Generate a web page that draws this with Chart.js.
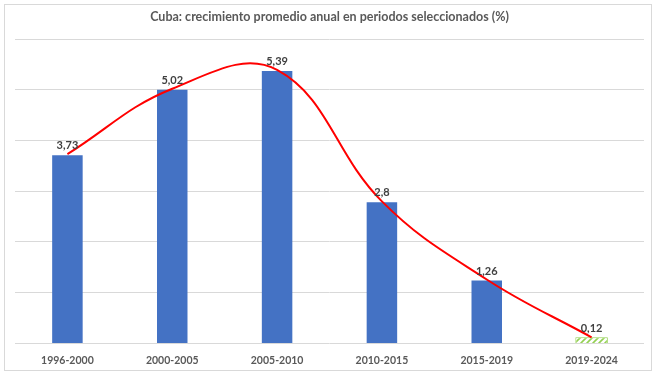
<!DOCTYPE html>
<html>
<head>
<meta charset="utf-8">
<script src="https://cdn.jsdelivr.net/npm/chart.js@4/dist/chart.umd.min.js"></script>
<style>
  html, body { margin: 0; padding: 0; background: #fff; }
  #wrap { position: relative; width: 656px; height: 375px; }
</style>
</head>
<body>
<div id="wrap"><canvas id="grafico"></canvas></div>
<script>
// Datos del gráfico
const periodos = ["1996-2000", "2000-2005", "2005-2010", "2010-2015", "2015-2019", "2019-2024"];
const crecimiento = [3.73, 5.02, 5.39, 2.8, 1.26, 0.12];
const titulo = "Cuba: crecimiento promedio anual en periodos seleccionados (%)";

const FUENTE = "Lato, 'Liberation Sans', sans-serif";

// Patrón rayado para la última barra
function crearRayado() {
  const c = document.createElement("canvas");
  c.width = 6;
  c.height = 6;
  const g = c.getContext("2d");
  g.fillStyle = "#ffffff";
  g.fillRect(0, 0, 6, 6);
  g.strokeStyle = "#92d050";
  g.lineWidth = 1.6;
  g.beginPath();
  g.moveTo(0, 6); g.lineTo(6, 0);
  g.moveTo(-3, 3); g.lineTo(3, -3);
  g.moveTo(3, 9); g.lineTo(9, 3);
  g.stroke();
  return g.createPattern(c, "repeat");
}

const colores = crecimiento.map((v, i) => i === crecimiento.length - 1 ? crearRayado() : "#4472c4");
const bordes = crecimiento.map((v, i) => i === crecimiento.length - 1 ? "#92d050" : "rgba(0,0,0,0)");

// Borde exterior del gráfico
const marco = {
  id: "marco",
  beforeDraw(chart) {
    const ctx = chart.ctx;
    ctx.save();
    ctx.strokeStyle = "#d9d9d9";
    ctx.lineWidth = 1;
    ctx.strokeRect(4.5, 4.5, chart.width - 9, chart.height - 9);
    ctx.restore();
  },
};

// Etiquetas de valor encima de las barras
const etiquetas = {
  id: "etiquetas",
  afterDatasetsDraw(chart) {
    const meta = chart.getDatasetMeta(0);
    const ctx = chart.ctx;
    ctx.save();
    ctx.font = "bold 11px " + FUENTE;
    ctx.fillStyle = "#404040";
    ctx.textAlign = "center";
    ctx.textBaseline = "bottom";
    meta.data.forEach((bar, i) => {
      const txt = String(crecimiento[i]).replace(".", ",");
      ctx.fillText(txt, bar.x, bar.y - 3);
    });
    ctx.restore();
  },
};

const ctx = document.getElementById("grafico").getContext("2d");
new Chart(ctx, {
  type: "bar",
  data: {
    labels: periodos,
    datasets: [
      {
        type: "bar",
        data: crecimiento,
        backgroundColor: colores,
        borderColor: bordes,
        borderWidth: 1,
        barPercentage: 0.31,
        categoryPercentage: 1,
        order: 1,
      },
      {
        type: "line",
        data: crecimiento,
        borderColor: "#ff0000",
        borderWidth: 2,
        pointRadius: 0,
        tension: 0.4,
        fill: false,
        order: 0,
      },
    ],
  },
  options: {
    responsive: true,
    maintainAspectRatio: false,
    animation: false,
    layout: { padding: { left: 15, right: 12, top: 0, bottom: -3 } },
    scales: {
      x: {
        grid: { display: false, drawTicks: false },
        border: { display: false },
        ticks: {
          color: "#595959",
          padding: 11,
          font: { family: FUENTE, size: 10.5, weight: "bold" },
        },
      },
      y: {
        min: 0,
        max: 6,
        grid: { color: "#d9d9d9", drawTicks: false },
        border: { display: false },
        ticks: { display: false, stepSize: 1 },
      },
    },
    plugins: {
      legend: { display: false },
      tooltip: { enabled: false },
      title: {
        display: true,
        text: titulo,
        color: "#595959",
        font: { family: FUENTE, size: 12.5, weight: "bold" },
        padding: { top: 9, bottom: 15 },
      },
    },
  },
  plugins: [marco, etiquetas],
});
</script>
</body>
</html>
